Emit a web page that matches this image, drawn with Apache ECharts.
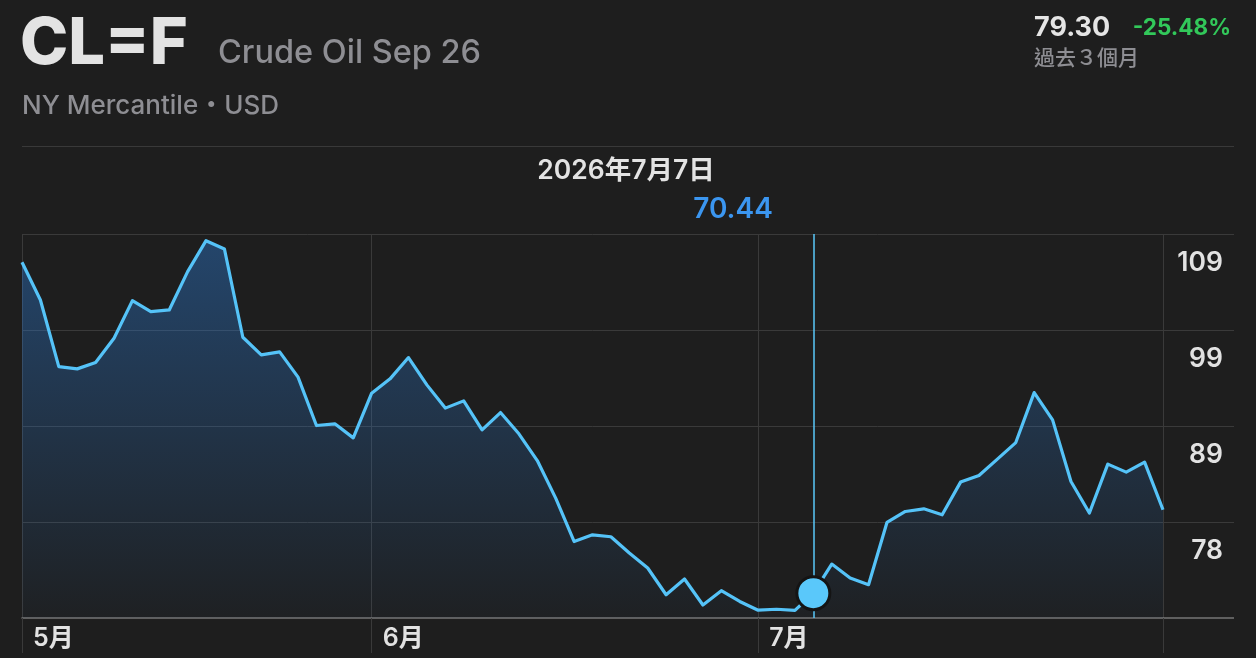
<!DOCTYPE html>
<html>
<head>
<meta charset="utf-8">
<script src="https://cdn.jsdelivr.net/npm/echarts@6/dist/echarts.min.js"></script>
<style>
html,body{margin:0;padding:0;background:#1e1e1e;}
#chart{width:1256px;height:658px;}
</style>
</head>
<body>
<div id="chart"></div>
<script>
// ---- data ----
const symbolName = 'CL=F';
const contractName = 'Crude Oil Sep 26';
const exchangeText = 'NY Mercantile・USD';
const lastPrice = '79.30';
const changePct = '-25.48%';
const periodText = '過去３個月';

const dates = [
  '2026-05-04','2026-05-05','2026-05-06','2026-05-07','2026-05-08',
  '2026-05-11','2026-05-12','2026-05-13','2026-05-14','2026-05-15',
  '2026-05-18','2026-05-19','2026-05-20','2026-05-21','2026-05-22',
  '2026-05-26','2026-05-27','2026-05-28','2026-05-29',
  '2026-06-01','2026-06-02','2026-06-03','2026-06-04','2026-06-05',
  '2026-06-08','2026-06-09','2026-06-10','2026-06-11','2026-06-12',
  '2026-06-15','2026-06-16','2026-06-17','2026-06-18',
  '2026-06-22','2026-06-23','2026-06-24','2026-06-25','2026-06-26',
  '2026-06-29','2026-06-30',
  '2026-07-01','2026-07-02','2026-07-06','2026-07-07','2026-07-08',
  '2026-07-09','2026-07-10','2026-07-13','2026-07-14','2026-07-15',
  '2026-07-16','2026-07-17','2026-07-20','2026-07-21','2026-07-22',
  '2026-07-23','2026-07-24','2026-07-27','2026-07-28','2026-07-29',
  '2026-07-30','2026-07-31','2026-08-03'
];

const prices = [
  105.60, 101.59, 94.51, 94.27, 94.94, 97.53, 101.52, 100.35, 100.53, 104.60,
  107.89, 107.01, 97.63, 95.75, 96.07, 93.39, 88.25, 88.43, 86.94,
  91.69, 93.21, 95.47, 92.57, 90.10, 90.87, 87.79, 89.63, 87.37, 84.53,
  80.54, 75.93, 76.64, 76.43, 74.70, 73.11, 70.27, 71.94, 69.18, 70.70,
  69.56,
  68.63, 68.73, 68.61, 70.44, 73.53, 72.05, 71.34, 77.95, 79.12, 79.40,
  78.77, 82.24, 82.94, 84.68, 86.44, 91.75, 88.85, 82.30, 78.95, 84.15,
  83.30, 84.36, 79.30
];

const monthStarts = [0, 19, 40];
const monthLabels = ['5月', '6月', '7月'];
const selectedIndex = 43;

const yMin = 67.8;
const yMax = 108.6;
const yGridValues = [78.0, 88.2, 98.4, 108.6];
const yTickLabels = ['78', '89', '99', '109'];

// ---- chart ----
const FONT = 'Inter, "Noto Sans CJK TC", "Noto Sans", sans-serif';
const GRID_COLOR = '#3a3a3a';
const LINE_COLOR = '#55c3f8';
const lastIdx = dates.length - 1;

function fmtDate(s) {
  const p = s.split('-');
  return p[0] + '年' + parseInt(p[1], 10) + '月' + parseInt(p[2], 10) + '日';
}

const chart = echarts.init(document.getElementById('chart'), null, {renderer: 'canvas'});

const option = {
  backgroundColor: '#1e1e1e',
  animation: false,
  textStyle: {fontFamily: FONT},
  grid: {left: 22, right: 93, top: 234, bottom: 40, containLabel: false},
  xAxis: {
    type: 'category',
    data: dates,
    boundaryGap: false,
    axisLine: {show: true, lineStyle: {color: '#767676', width: 1.5}},
    axisTick: {
      show: true,
      length: 35,
      interval: (i) => monthStarts.includes(i) || i === lastIdx,
      lineStyle: {color: GRID_COLOR, width: 1}
    },
    splitLine: {
      show: true,
      interval: (i) => monthStarts.includes(i) || i === lastIdx,
      lineStyle: {color: GRID_COLOR, width: 1}
    },
    axisLabel: {
      show: true,
      interval: (i) => monthStarts.includes(i),
      formatter: (v, i) => {
        const k = monthStarts.indexOf(i);
        return k >= 0 ? monthLabels[k] : '';
      },
      align: 'left',
      padding: [0, 0, 0, 11],
      margin: 8,
      color: '#e2e2e2',
      fontSize: 25,
      fontWeight: 600,
      lineHeight: 25,
      fontFamily: FONT
    }
  },
  yAxis: [
    {
      type: 'value',
      position: 'right',
      min: yMin,
      max: yMax,
      axisLine: {show: false},
      axisTick: {
        show: true,
        customValues: yGridValues,
        length: 71,
        lineStyle: {color: GRID_COLOR, width: 1}
      },
      splitLine: {show: true, lineStyle: {color: GRID_COLOR, width: 1}},
      axisLabel: {
        show: true,
        customValues: yGridValues,
        showMaxLabel: true,
        formatter: (v) => {
          let best = 0, bd = Infinity;
          yGridValues.forEach((g, k) => { const d = Math.abs(g - v); if (d < bd) { bd = d; best = k; } });
          return yTickLabels[best];
        },
        align: 'right',
        verticalAlign: 'top',
        margin: 60,
        padding: [16, 0, 0, 0],
        lineHeight: 26,
        color: '#e2e2e2',
        fontSize: 26.5,
        fontWeight: 600,
        fontFamily: FONT
      }
    },
    {
      type: 'value',
      position: 'right',
      min: yMin,
      max: yMax,
      axisLine: {show: false},
      axisLabel: {show: false},
      splitLine: {show: false},
      axisTick: {
        show: true,
        customValues: [yMin],
        length: 71,
        lineStyle: {color: '#767676', width: 1.5}
      }
    }
  ],
  series: [
    {
      type: 'line',
      data: prices,
      showSymbol: false,
      symbol: 'none',
      lineStyle: {color: LINE_COLOR, width: 3.2, join: 'round'},
      areaStyle: {
        color: {
          type: 'linear', x: 0, y: 0, x2: 0, y2: 1,
          colorStops: [
            {offset: 0, color: 'rgba(44,124,214,0.6)'},
            {offset: 1, color: 'rgba(44,124,214,0.04)'}
          ]
        }
      },
      markLine: {
        silent: true,
        symbol: 'none',
        label: {show: false},
        lineStyle: {color: '#5ac8fa', width: 1.5, type: 'solid'},
        data: [{xAxis: selectedIndex}]
      },
      markPoint: {
        silent: true,
        symbol: 'circle',
        symbolSize: 33,
        label: {show: false},
        itemStyle: {color: '#5ac8fa', borderColor: '#141414', borderWidth: 3},
        data: [{coord: [selectedIndex, prices[selectedIndex]]}]
      }
    }
  ],
  graphic: [
    {type: 'text', left: 20, top: 12, style: {text: symbolName, font: '800 65px ' + FONT, fill: '#e3e3e3'}},
    {type: 'text', left: 218, top: 37, style: {text: contractName, font: '500 32.5px ' + FONT, fill: '#8e8e93'}},
    {type: 'text', left: 22, top: 93, style: {text: exchangeText, font: '500 26px ' + FONT, fill: '#8e8e93'}},
    {type: 'text', left: 1034, top: 14, style: {text: lastPrice, font: '700 27px ' + FONT, fill: '#e5e5e5'}},
    {type: 'text', right: 25, top: 17, style: {text: changePct, font: '700 22.5px ' + FONT, fill: '#32c85a'}},
    {type: 'text', left: 1034, top: 48, style: {text: periodText, font: '500 21px ' + FONT, fill: '#8e8e93'}},
    {type: 'rect', shape: {x: 22, y: 146, width: 1212, height: 1}, style: {fill: '#393939'}},
    {type: 'text', x: 626, y: 171, style: {text: fmtDate(dates[selectedIndex]), font: '600 26.5px ' + FONT, fill: '#e3e3e3', align: 'center', verticalAlign: 'middle'}},
    {type: 'text', x: 733, y: 210, style: {text: prices[selectedIndex].toFixed(2), font: '600 28px ' + FONT, fill: '#3b96f0', align: 'center', verticalAlign: 'middle'}}
  ]
};

chart.setOption(option);
</script>
</body>
</html>
